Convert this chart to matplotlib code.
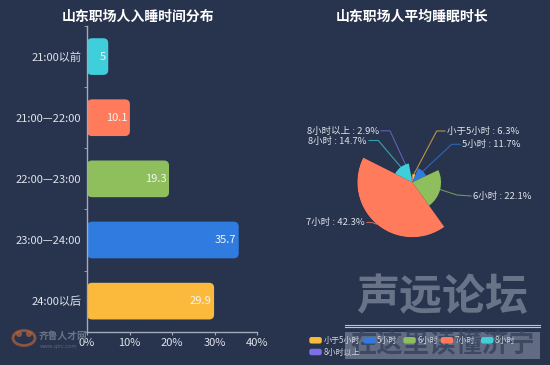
import numpy as np
import matplotlib
matplotlib.use("Agg")
import matplotlib.pyplot as plt
from matplotlib.patches import FancyBboxPatch, Rectangle, Ellipse
from matplotlib.lines import Line2D

plt.rcParams['font.family'] = ['Noto Sans CJK SC', 'DejaVu Sans']

# ---------------- data ----------------
bar_title = "山东职场人入睡时间分布"
bar_categories = ["21:00以前", "21:00—22:00", "22:00—23:00", "23:00—24:00", "24:00以后"]
bar_values = [5, 10.1, 19.3, 35.7, 29.9]
bar_xticks = [0, 10, 20, 30, 40]
bar_xticklabels = ["0%", "10%", "20%", "30%", "40%"]

pie_title = "山东职场人平均睡眠时长"
pie_names = ["小于5小时", "5小时", "6小时", "7小时", "8小时", "8小时以上"]
pie_values = [6.3, 11.7, 22.1, 42.3, 14.7, 2.9]

# ---------------- style ----------------
W, H = 550, 365
BG = "#28344e"
bar_colors = ["#3ecfdb", "#ff7b5c", "#8fbe5c", "#2f7be0", "#fcba3d"]
pie_colors = ["#fcba3d", "#2f7be0", "#8fbe5c", "#ff7b5c", "#3ecfdb", "#7d6fe6"]
TXT = "#dfe3ea"
AXC = "#a3abbb"

fig = plt.figure(figsize=(W / 100, H / 100), dpi=100, facecolor=BG)


def px(x, y):
    return (x / W, 1 - y / H)


# ---------------- left: horizontal bars ----------------
ax = fig.add_axes([87 / W, 1 - 331.7 / H, 170 / W, 305.7 / H])
ax.set_facecolor("none")
ypos = np.arange(len(bar_categories))
ax.set_xlim(0, 40)
ax.set_ylim(len(bar_categories) - 0.5, -0.5)

bars = ax.barh(ypos, bar_values, height=0.6, color=bar_colors)
xpp = 40 / 170.0
ypp = 5 / 305.7
for b, c in zip(bars, bar_colors):
    x0, y0, w, h = b.get_x(), b.get_y(), b.get_width(), b.get_height()
    b.remove()
    ax.add_patch(FancyBboxPatch((x0, y0), w, h,
                                boxstyle=f"round,pad=0,rounding_size={5 * xpp}",
                                mutation_aspect=ypp / xpp, fc=c, ec="none", zorder=2))
for i, v in enumerate(bar_values):
    ax.annotate(f"{v:g}", (v, i), xytext=(-2, 0), textcoords="offset points",
                ha="right", va="center", color="#f4f4f4", fontsize=8, zorder=3)

for s in ["top", "right"]:
    ax.spines[s].set_visible(False)
for s in ["left", "bottom"]:
    ax.spines[s].set_color(AXC)
    ax.spines[s].set_linewidth(1.0)
ax.set_yticks(ypos)
ax.set_yticklabels(bar_categories)
ax.set_yticks(np.arange(-0.5, len(bar_categories) + 0.5, 1), minor=True)
ax.tick_params(axis="y", which="major", length=0, pad=4, labelcolor=TXT, labelsize=8)
ax.tick_params(axis="y", which="minor", length=2.5, color=AXC, direction="out")
ax.set_xticks(bar_xticks)
ax.set_xticklabels(bar_xticklabels)
ax.tick_params(axis="x", length=2.5, color=AXC, pad=2, labelcolor=TXT, labelsize=8)

fig.text(*px(138, 17), bar_title, ha="center", va="center", color="white",
         fontsize=10, fontweight="bold")

# ---------------- right: rose pie ----------------
cx, cy, R = 412.3, 182.3, 55
pax = fig.add_axes([(cx - R) / W, 1 - (cy + R) / H, 2 * R / W, 2 * R / H], projection="polar")
pax.set_theta_offset(np.pi / 2)
pax.set_theta_direction(-1)
vals = np.array(pie_values)
total = vals.sum()
widths = vals / total * 2 * np.pi
starts = np.concatenate([[0], np.cumsum(widths)[:-1]])
pax.bar(starts, vals, width=widths, align="edge", bottom=0, color=pie_colors,
        edgecolor="none", zorder=2)
pax.set_ylim(0, vals.max())
pax.axis("off")
pax.patch.set_visible(False)

fig.text(*px(412.5, 17), pie_title, ha="center", va="center", color="white",
         fontsize=10, fontweight="bold")

# label positions (pixels): elbow, end, text anchor, alignment
label_layout = [
    ((436.7, 131.0), (445.0, 131.0), (447.0, 131.5), "left"),
    ((451.7, 144.3), (460.0, 144.3), (462.0, 144.5), "left"),
    ((457.0, 195.0), (471.0, 196.0), (473.0, 196.0), "left"),
    ((372.0, 222.5), (367.0, 222.5), (365.0, 222.8), "right"),
    ((378.3, 140.5), (369.0, 140.5), (367.0, 141.0), "right"),
    ((390.0, 130.8), (381.0, 130.8), (379.0, 131.0), "right"),
]
fig.canvas.draw()
inv = fig.transFigure.inverted()
mids = starts + widths / 2
for k, (name, v) in enumerate(zip(pie_names, pie_values)):
    sx, sy = inv.transform(pax.transData.transform((mids[k], v)))
    (ex, ey), (fx, fy), (tx, ty), ha = label_layout[k]
    ex, ey = px(ex, ey)
    fx, fy = px(fx, fy)
    pax.add_line(Line2D([sx, ex, fx], [sy, ey, fy], transform=fig.transFigure,
                        color=pie_colors[k], alpha=0.7, lw=0.8, clip_on=False, zorder=1))
    fig.text(*px(tx, ty), f"{name} : {v:g}%", ha=ha, va="center", color=TXT, fontsize=6.8)

# ---------------- watermarks ----------------
wm = (0.72, 0.76, 0.82)
fig.text(*px(442, 297), "声远论坛", ha="center", va="center", color=wm, alpha=0.45,
         fontsize=31, fontweight="bold", style="italic", zorder=5)
for yy in (324.5, 327.0):
    fig.add_artist(Line2D([345 / W, 540 / W], [1 - yy / H] * 2, color="#d0d4dc",
                          lw=0.8, alpha=0.9, zorder=5))
fig.add_artist(Rectangle(px(345, 358.5), 195 / W, 27 / H, transform=fig.transFigure,
                         fc=wm, alpha=0.4, ec="none", zorder=5))
fig.text(*px(442.5, 345), "在这里读懂济宁", ha="center", va="center", color="#34405a",
         alpha=0.8, fontsize=19, fontweight="bold", zorder=5)

fig.add_artist(Ellipse(px(24, 338), 22 / W, 15 / H, transform=fig.transFigure,
                       fc="none", ec="#b8643c", lw=2.0, alpha=0.7, zorder=5))
fig.add_artist(Ellipse(px(19, 334), 6 / W, 6 / H, transform=fig.transFigure,
                       fc="#b8643c", ec="none", alpha=0.7, zorder=5))
fig.add_artist(Ellipse(px(29, 334), 6 / W, 6 / H, transform=fig.transFigure,
                       fc="#b8643c", ec="none", alpha=0.7, zorder=5))
fig.text(*px(39, 336), "齐鲁人才网", ha="left", va="center", color="#6b7486",
         fontsize=7, fontweight="bold", zorder=5)
fig.text(*px(40, 346.5), "www.qlrc.com", ha="left", va="center", color="#5d6678",
         fontsize=4, zorder=5)

# ---------------- legend ----------------
legend_slots = [(309.3, 340.3), (363.3, 340.3), (403.3, 340.3), (440.7, 340.3),
                (481.0, 340.3), (309.3, 352.0)]
mw, mh = 12.5, 6.5
for k, name in enumerate(pie_names):
    lx, ly = legend_slots[k]
    fig.add_artist(FancyBboxPatch(px(lx, ly + mh / 2), mw / W, mh / H,
                                  boxstyle="round,pad=0,rounding_size=0.004",
                                  mutation_aspect=W / H,
                                  transform=fig.transFigure, fc=pie_colors[k], ec="none",
                                  zorder=6))
    fig.text(*px(lx + mw + 1.5, ly), name, ha="left", va="center", color="#cfd4dc",
             fontsize=5.8, zorder=6)

fig.savefig("out.png", dpi=100, facecolor=BG)
